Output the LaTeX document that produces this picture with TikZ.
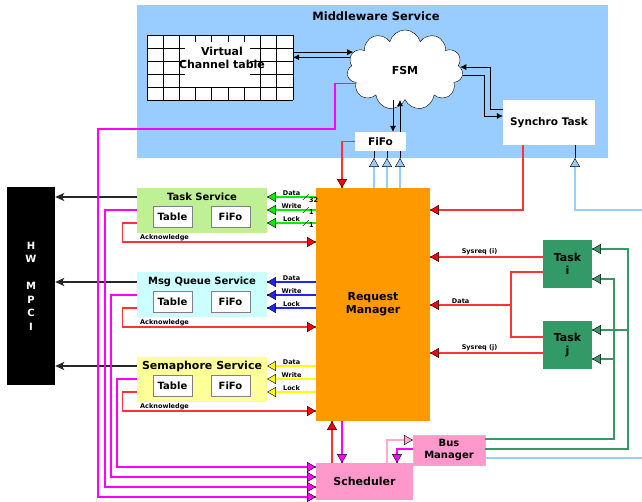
\documentclass[tikz,border=0pt]{standalone}
\usepackage{fontspec}
\setmainfont{DejaVu Sans}
\usetikzlibrary{shapes.geometric, shapes.symbols, arrows.meta, positioning, calc}

\definecolor{mwblue}{HTML}{99CCFF}
\definecolor{tsgreen}{HTML}{C0F096}
\definecolor{mqcyan}{HTML}{CCFFFF}
\definecolor{semyellow}{HTML}{FFFF99}
\definecolor{rmorange}{HTML}{FF9900}
\definecolor{schedpink}{HTML}{FF99CC}
\definecolor{taskgreen}{HTML}{339966}
\definecolor{ackred}{HTML}{FF3333}
\definecolor{magline}{HTML}{FF00FF}
\definecolor{datagreen}{HTML}{00EE00}
\definecolor{datablue}{HTML}{2222FF}
\definecolor{datayellow}{HTML}{FFFF00}
\definecolor{lpink}{HTML}{FFAACC}

\tikzstyle{service} = [rectangle, minimum width=130pt, minimum height=45pt, inner sep=0pt]
\tikzstyle{inbox} = [rectangle, minimum width=39pt, minimum height=21pt, inner sep=0pt, draw=gray, fill=white, font=\bfseries\fontsize{10}{12}\selectfont]
\tikzstyle{wbox} = [rectangle, inner sep=0pt, fill=white, font=\bfseries\fontsize{10.5}{12}\selectfont]
\tikzstyle{servtitle} = [font=\bfseries\fontsize{10}{12}\selectfont, inner sep=0pt]
\tikzstyle{bigtxt} = [font=\bfseries\fontsize{11}{13}\selectfont, inner sep=0pt, align=center]
\tikzstyle{lbl} = [font=\bfseries\fontsize{6.5}{7}\selectfont, inner sep=1pt, text=black]
\tikzstyle{arrow} = [semithick,-{Latex[length=6pt,width=6pt]}]
\tikzstyle{hwarrow} = [line width=1.2pt, black!85, -{Stealth[length=9pt,width=8pt,inset=2pt]}]
\tikzstyle{wline} = [line width=1.2pt]
\tikzset{tiphead/.style={isosceles triangle, isosceles triangle apex angle=60, draw=black, fill=#1, thin, inner sep=0pt, minimum size=8pt, anchor=apex, sloped, allow upside down, pos=1}}

\begin{document}
\begin{tikzpicture}[x=1pt, y=-1pt]
\useasboundingbox (0,0) rectangle (642,502);

% Middleware block
\node[fill=mwblue, minimum width=471pt, minimum height=153pt, inner sep=0pt] (mw) at (372.5,81.5) {};
\node[servtitle, font=\bfseries\fontsize{11.5}{13}\selectfont] (mwtitle) at (376,16) {Middleware Service};

% Virtual channel table (grid)
\node[minimum width=146pt, minimum height=65pt, inner sep=0pt, fill=white] (vctgrid) at (220,67.5) {};
\foreach \i in {0,...,9} \draw (vctgrid.north west) ++(\i*16.222,0) -- ++(0,65);
\foreach \j in {0,...,5} \draw (vctgrid.north west) ++(0,\j*13) -- ++(146,0);
\fill[white] (185,42) rectangle (250,87);
\node[bigtxt] (vct) at (222,58) {Virtual\\Channel table};

\node[cloud, cloud puffs=11, aspect=1.45, draw, fill=white, minimum width=116pt, minimum height=80pt, bigtxt] (fsm) at (405,70) {FSM};
\node[wbox, minimum width=92pt, minimum height=45pt] (synchro) at (549,122.5) {Synchro Task};
\node[wbox, minimum width=51pt, minimum height=19pt] (mwfifo) at (380.5,141.5) {FiFo};

% Middleware arrows
\draw[arrow] (vctgrid.east |- fsm.161) -- (fsm.161);
\draw[arrow] (fsm.167) -- (vctgrid.east |- fsm.167);
\draw[arrow] ([yshift=13.5pt]synchro.west) -- ++(-13,0) |- (fsm.3);
\draw[arrow] (fsm.355) -| ([xshift=-19pt, yshift=6.5pt]synchro.west) -- ([yshift=6.5pt]synchro.west);
\draw[arrow] (fsm.south -| 393,0) -- (mwfifo.north -| 393,0);
\draw[arrow] (mwfifo.north -| 400,0) -- (fsm.south -| 400,0);

% Request manager, HW, services
\node[fill=rmorange, minimum width=114pt, minimum height=233pt, inner sep=0pt, bigtxt] (rm) at (373,304.5) {Request\\Manager};
\node[fill=black, minimum width=48pt, minimum height=198pt, inner sep=0pt, text=white, font=\bfseries\fontsize{10}{13.5}\selectfont, align=center] (hw) at (31,286) {H\\W\\[13.5pt]M\\P\\C\\I};

\node[service, fill=tsgreen] (ts) at (202,210.5) {};
\node[servtitle] (tstitle) at (202,197) {Task Service};
\node[inbox] (tstable) at (172.5,216.5) {Table};
\node[inbox] (tsfifo) at (230.5,216.5) {FiFo};

\node[service, fill=mqcyan] (mq) at (202,294.5) {};
\node[servtitle] (mqtitle) at (202,282) {Msg Queue Service};
\node[inbox] (mqtable) at (172.5,301.5) {Table};
\node[inbox] (mqfifo) at (230.5,301.5) {FiFo};

\node[service, fill=semyellow] (sem) at (202,379) {};
\node[servtitle, font=\bfseries\fontsize{11}{13}\selectfont] (semtitle) at (202,366) {Semaphore Service};
\node[inbox] (semtable) at (172.5,386) {Table};
\node[inbox] (semfifo) at (230.5,386) {FiFo};

\node[fill=schedpink, minimum width=97pt, minimum height=37pt, inner sep=0pt, bigtxt] (sched) at (364.5,481.5) {Scheduler};
\node[fill=schedpink, draw=lpink, minimum width=72pt, minimum height=30pt, inner sep=0pt, servtitle, align=center] (bm) at (449,450) {Bus\\Manager};
\node[fill=taskgreen, minimum width=49pt, minimum height=48pt, inner sep=0pt, bigtxt] (taski) at (567.5,264) {Task\\i};
\node[fill=taskgreen, minimum width=49pt, minimum height=48pt, inner sep=0pt, bigtxt] (taskj) at (567.5,345) {Task\\j};

\coordinate (ext1) at (642,210);
\coordinate (ext2) at (642,458);
\coordinate (dj) at (511,305);

% Services to HW
\draw[hwarrow] (ts.west |- tstitle) -- (hw.east |- tstitle);
\draw[hwarrow] (mq.west |- mqtitle) -- (hw.east |- mqtitle);
\draw[hwarrow] (sem.west |- semtitle) -- (hw.east |- semtitle);

% Data / Write / Lock lines
\foreach \s/\c/\y in {ts/datagreen/197, mq/datablue/282, sem/datayellow/366} {
  \draw[wline, \c] (rm.west |- 0,\y) -- (\s.east |- 0,\y) node[midway, above, lbl] {Data} node[tiphead=\c] {};
  \draw[wline, \c] (rm.west |- 0,\y+13) -- (\s.east |- 0,\y+13) node[midway, above, lbl] {Write} node[tiphead=\c] {};
  \draw[wline, \c] (rm.west |- 0,\y+26) -- (\s.east |- 0,\y+26) node[midway, above, lbl] {Lock} node[tiphead=\c] {};
}
\foreach \y/\w in {197/32, 210/1, 223/1}
  \draw ($(rm.west |- 0,\y)+(-13,3)$) -- ++(6,-6) node[lbl, below right, xshift=-1pt, yshift=-2pt] {\w};

% Acknowledge lines
\foreach \s/\y in {ts/223, mq/308, sem/392} {
  \draw[wline, ackred] (\s.west |- 0,\y) -- ++(-14,0) |- (rm.west |- 0,\y+19) node[tiphead=red] {};
  \node[lbl, anchor=south west] at (139,\y+19) {Acknowledge};
}

% Services to scheduler
\draw[wline, magline] (ts.west |- 0,210) -| (105,487) -- (sched.west |- 0,487) node[tiphead=magline] {};
\draw[wline, magline] (mq.west |- 0,295) -| (111,477) -- (sched.west |- 0,477) node[tiphead=magline] {};
\draw[wline, magline] (sem.west |- 0,379) -| (117,467) -- (sched.west |- 0,467) node[tiphead=magline] {};
\draw[wline, magline] (fsm.195) -| (335,129) -| (98,497) -- (sched.west |- 0,497) node[tiphead=magline] {};

% Middleware to request manager
\draw[wline, ackred] (mwfifo.west) -| (rm.north -| 342,0) node[tiphead=red] {};
\draw[wline, ackred] (synchro.south -| 523,0) |- (rm.east |- 0,210) node[tiphead=red] {};
\foreach \x in {374, 387, 400} {
  \draw (mwfifo.south -| \x,0) -- (mw.south -| \x,0);
  \draw[wline, mwblue] (rm.north -| \x,0) -- (mw.south -| \x,0) node[tiphead=mwblue] {};
}
\draw (synchro.south -| 575,0) -- (mw.south -| 575,0);
\draw[wline, mwblue] (ext1) -| (mw.south -| 575,0) node[tiphead=mwblue] {};

% Tasks
\draw[wline, ackred] (taski.west |- 0,257) -- (rm.east |- 0,257) node[midway, above, lbl, xshift=-7pt] {Sysreq (i)} node[tiphead=red] {};
\draw[wline, ackred] (taski.west |- 0,272) -| (dj |- 0,337) -- (taskj.west |- 0,337);
\draw[wline, ackred] (dj) -- (rm.east |- dj) node[midway, above, lbl, xshift=-10pt] {Data} node[tiphead=red] {};
\draw[wline, ackred] (taskj.west |- 0,353) -- (rm.east |- 0,353) node[midway, above, lbl, xshift=-7pt] {Sysreq (j)} node[tiphead=red] {};

% Scheduler and bus manager
\draw[wline, ackred] (sched.north -| 332,0) -- (rm.south -| 332,0) node[tiphead=red] {};
\draw[wline, magline] (rm.south -| 342,0) -- (sched.north -| 342,0) node[tiphead=magline] {};
\draw[wline, lpink] (sched.north -| 387,0) |- (bm.west |- 0,440) node[tiphead=lpink] {};
\draw[wline, magline] (bm.west |- 0,449) -| (sched.north -| 397,0) node[tiphead=magline] {};
\draw[wline, taskgreen] (bm.east |- 0,439) -| (614,279) -- (taski.east |- 0,279) node[tiphead=taskgreen] {};
\draw[wline, taskgreen] (614,359) -- (taskj.east |- 0,359) node[tiphead=taskgreen] {};
\draw[wline, taskgreen] (bm.east |- 0,449) -| (628,249) -- (taski.east |- 0,249) node[tiphead=taskgreen] {};
\draw[wline, taskgreen] (628,330) -- (taskj.east |- 0,330) node[tiphead=taskgreen] {};
\draw[wline, mwblue] (bm.east |- ext2) -- (ext2);

\end{tikzpicture}
\end{document}
